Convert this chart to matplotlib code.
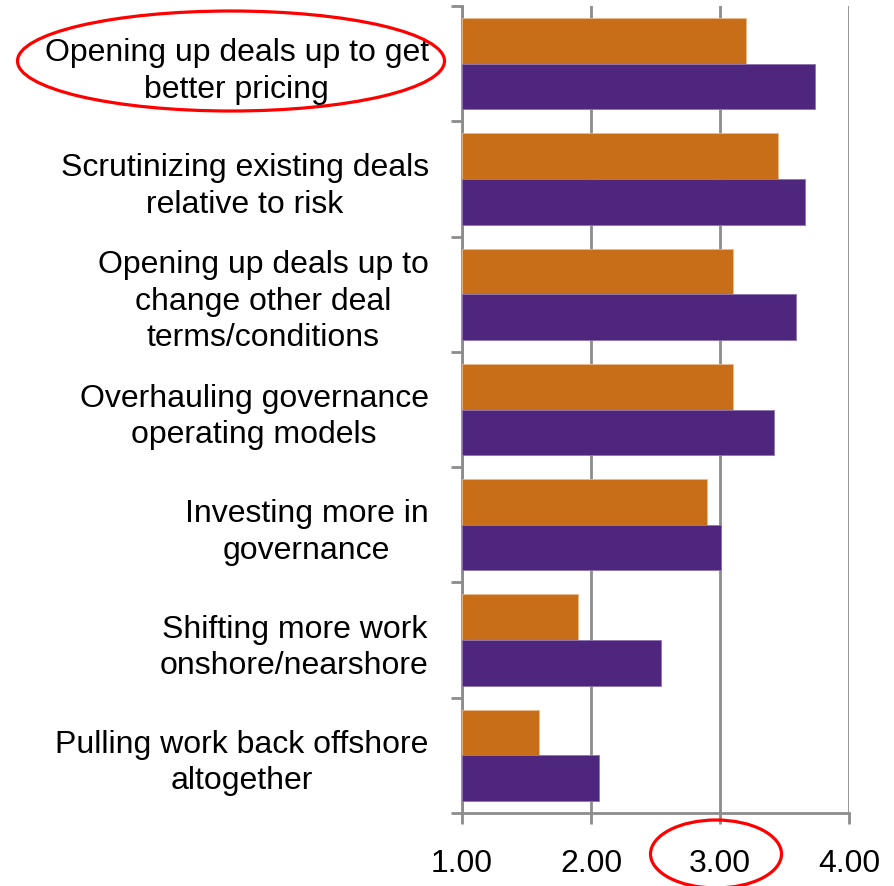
import matplotlib
matplotlib.use("Agg")
import matplotlib.pyplot as plt
from matplotlib.patches import Ellipse
import numpy as np

plt.rcParams['font.family'] = ['Liberation Sans', 'DejaVu Sans']

categories = [
    "Opening up deals up to get\nbetter pricing",
    "Scrutinizing existing deals\nrelative to risk",
    "Opening up deals up to\nchange other deal\nterms/conditions",
    "Overhauling governance\noperating models",
    "Investing more in\ngovernance",
    "Shifting more work\nonshore/nearshore",
    "Pulling work back offshore\naltogether",
]
series_orange = [3.20, 3.45, 3.10, 3.10, 2.90, 1.90, 1.60]
series_purple = [3.74, 3.66, 3.59, 3.42, 3.01, 2.54, 2.06]
x_ticks = [1.0, 2.0, 3.0, 4.0]
x_tick_labels = ["1.00", "2.00", "3.00", "4.00"]

ORANGE = "#C86D18"
PURPLE = "#4F267D"
GRAY = "#8C8C8C"

fig = plt.figure(figsize=(8.94, 8.87), dpi=100)
ax = fig.add_axes([0.5168, 0.0823, 0.4329, 0.9098])

n = len(categories)
centers = n - 1 - np.arange(n) + 0.5  # first category at the top
bh = 0.396
ax.barh(centers + bh / 2, np.array(series_orange) - 1, left=1, height=bh,
        color=ORANGE, edgecolor="#E8B98C", linewidth=0.6, zorder=3)
ax.barh(centers - bh / 2, np.array(series_purple) - 1, left=1, height=bh,
        color=PURPLE, edgecolor="#8F73B0", linewidth=0.6, zorder=3)

ax.set_xlim(1, 4)
ax.set_ylim(0, n)

# vertical gridlines
ax.set_xticks(x_ticks)
ax.set_xticklabels(x_tick_labels, fontsize=23)
ax.grid(axis='x', color=GRAY, linewidth=2, zorder=0)
ax.tick_params(axis='x', direction='out', length=8, width=2, color=GRAY, pad=17)

# category boundary ticks and centred labels
ax.set_yticks(np.arange(n + 1))
ax.set_yticklabels([])
ax.tick_params(axis='y', which='major', direction='out', length=8, width=2, color=GRAY)
ax.set_yticks(centers, minor=True)
ax.set_yticklabels(categories, minor=True, fontsize=23, multialignment='center',
                   linespacing=1.28)
ax.tick_params(axis='y', which='minor', length=0, pad=24)

for side in ('top', 'right'):
    ax.spines[side].set_visible(False)
for side in ('left', 'bottom'):
    ax.spines[side].set_color(GRAY)
    ax.spines[side].set_linewidth(2)

# highlight ellipses
fig.patches.append(Ellipse((231 / 894, 1 - 62 / 887), 427 / 894, 100 / 887,
                           transform=fig.transFigure, fill=False,
                           edgecolor="#FF0000", linewidth=2.3, zorder=10))
fig.patches.append(Ellipse((716 / 894, 1 - 855 / 887), 131 / 894, 68 / 887,
                           transform=fig.transFigure, fill=False,
                           edgecolor="#FF0000", linewidth=2.3, zorder=10))

fig.savefig("out.png", dpi=100)
